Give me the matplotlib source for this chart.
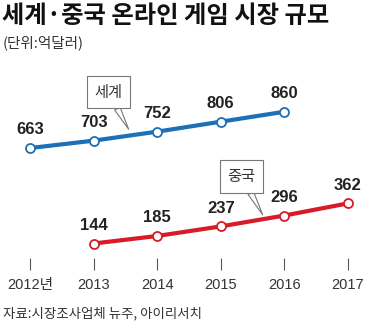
import matplotlib.pyplot as plt

plt.rcParams['font.family'] = ['Liberation Sans', 'Noto Sans CJK KR', 'DejaVu Sans']
kr = ['Noto Sans CJK KR', 'DejaVu Sans']

years = [2012, 2013, 2014, 2015, 2016, 2017]
year_labels = ['2012년', '2013', '2014', '2015', '2016', '2017']
world_years = [2012, 2013, 2014, 2015, 2016]
world = [663, 703, 752, 806, 860]
china_years = [2013, 2014, 2015, 2016, 2017]
china = [144, 185, 237, 296, 362]

blue = '#1c70b6'
red = '#d71c28'

fig = plt.figure(figsize=(3.72, 3.29), dpi=100)
ax = fig.add_axes([20 / 372, 59 / 329, 338 / 372, 200 / 329])
ax.set_xlim(2011.84, 2017.16)
ax.set_ylim(0, 1087)

for xs, ys, c in [(world_years, world, blue), (china_years, china, red)]:
    ax.plot(xs, ys, color=c, lw=3, marker='o', ms=6.5, mfc='white',
            mec=c, mew=1.3, zorder=3)
    for x, y in zip(xs, ys):
        ax.annotate(str(y), (x, y), xytext=(0, 13), textcoords='offset points',
                    ha='center', va='center', fontsize=12, fontweight='bold',
                    color='#222222')

# callout labels
box = dict(boxstyle='square,pad=0.5', fc='white', ec='#777777', lw=0.8)
arrow = dict(arrowstyle='wedge,tail_width=0.4', fc='white', ec='#777777', lw=0.8,
             shrinkA=0, shrinkB=0)
ax.annotate('세계', xy=(2013.55, 765), xytext=(2013.23, 967), ha='center',
            va='center', fontsize=11, color='#333333', bbox=box,
            arrowprops=arrow, family=kr)
ax.annotate('중국', xy=(2015.66, 300), xytext=(2015.33, 508), ha='center',
            va='center', fontsize=11, color='#333333', bbox=box,
            arrowprops=arrow, family=kr)

ax.set_xticks(years)
ax.set_xticklabels(year_labels, fontsize=10.5, color='#333333')
ax.tick_params(axis='x', direction='in', length=8.5, width=0.8,
               color='#555555', pad=6)
ax.tick_params(axis='y', left=False, labelleft=False)
for s in ax.spines.values():
    s.set_visible(False)

fig.text(2 / 372, 1 - 16 / 329, '세계·중국 온라인 게임 시장 규모', fontsize=17.5,
         fontweight='bold', va='center', ha='left', color='#111111', family=kr)
fig.text(3 / 372, 1 - 43 / 329, '(단위:억달러)', fontsize=10.5, va='center',
         ha='left', color='#333333', family=kr)
fig.text(3 / 372, 1 - 313 / 329, '자료:시장조사업체 뉴주, 아이리서치', fontsize=9.7,
         va='center', ha='left', color='#333333', family=kr)

fig.savefig('out.png', dpi=100)
